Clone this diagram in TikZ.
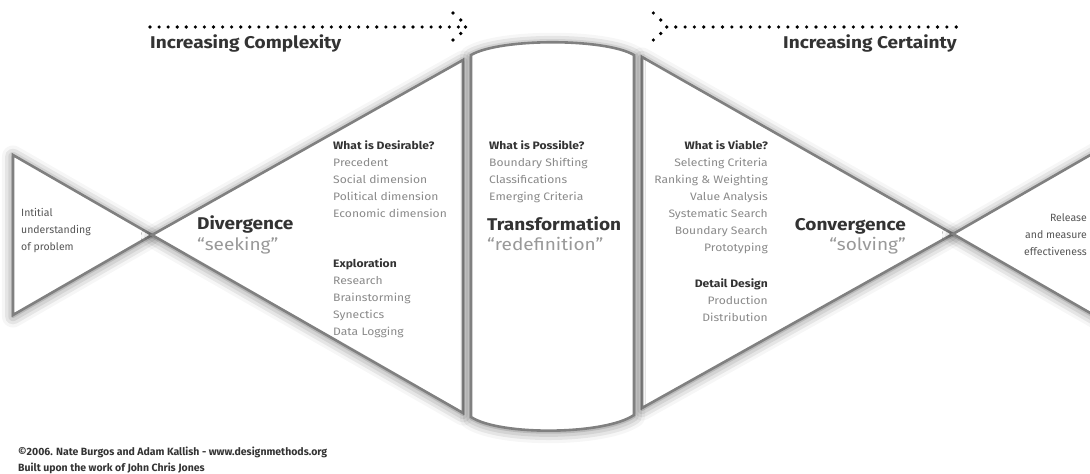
\documentclass[tikz,border=0pt]{standalone}
\usepackage{fontspec}
\setmainfont{Fira Sans}
\newfontfamily\widefont{Fira Sans}[FakeStretch=1.12]
\usetikzlibrary{shadows.blur}
\definecolor{edgegray}{HTML}{808080}
\definecolor{headgray}{HTML}{333333}
\definecolor{listgray}{HTML}{8A8A8A}
\definecolor{quotegray}{HTML}{999999}
\definecolor{notegray}{HTML}{555555}
\begin{document}
\begin{tikzpicture}[x=1pt, y=-1pt,
    stage/.style={draw=edgegray, line width=2.6pt, fill=white,
      blur shadow={shadow xshift=0pt, shadow yshift=-1.5pt, shadow blur radius=11pt, shadow opacity=55}},
    big/.style={font=\widefont\fontsize{17}{19}\selectfont\bfseries, text=headgray, inner sep=0pt},
    quote/.style={font=\widefont\fontsize{17}{19}\selectfont, text=quotegray, inner sep=0pt},
    head/.style={font=\widefont\fontsize{10.8}{12}\selectfont\bfseries, text=headgray, inner sep=0pt},
    item/.style={font=\widefont\fontsize{10.8}{12}\selectfont, text=listgray, inner sep=0pt},
    note/.style={font=\fontsize{10.5}{12}\selectfont, text=notegray, inner sep=0pt},
    credit/.style={font=\fontsize{10.5}{12}\selectfont\bfseries, text=headgray, inner sep=0pt}]
  \useasboundingbox (0,0) rectangle (1090,474);
  \clip (0,0) rectangle (1090,474);

  % the stages
  \coordinate (in) at (152,235);
  \coordinate (out) at (953,234);
  \draw[stage] (13,155) -- (in) -- (13,315) -- cycle;
  \draw[stage] (in) -- (463,60) -- (463,413) -- cycle;
  \draw[stage] (642,57) -- (out) -- (642,408) -- cycle;
  \draw[stage] (out) -- (1158,116) -- (1158,352) -- cycle;
  \draw[stage] (471,417) -- (471,55) .. controls (500,38) and (605,38) .. (634,55)
    -- (634,415) .. controls (605,435) and (500,436) .. (471,417) -- cycle;

  % dotted arrows
  \coordinate (cplx) at (150,27);
  \coordinate (cert) at (675.7,27);
  \foreach \i in {0,...,34}
    \fill (cplx) ++(9.07*\i,0) circle (1.8);
  \foreach \x/\y in {453/13, 460.7/20, 465.5/27, 460.7/33.5, 453/40}
    \fill (\x,\y) circle (1.8);
  \foreach \i in {0,...,30}
    \fill (cert) ++(9.35*\i,0) circle (1.8);
  \foreach \x/\y in {653.3/13, 660.7/20, 666.7/27, 660.7/33.5, 653.3/40}
    \fill (\x,\y) circle (1.8);
  \node[big, anchor=base west] (cplx-label) at (150,48) {Increasing Complexity};
  \node[big, anchor=base east] (cert-label) at (957,48) {Increasing Certainty};

  % start and end
  \foreach \t [count=\i] in {Intitial, understanding, of problem}
    \node[note, anchor=base west] (start-\i) at (21,199+17*\i) {\t};
  \foreach \t [count=\i] in {Release, and measure, effectiveness}
    \node[note, anchor=base east] (end-\i) at (1087,204+17*\i) {\t};

  % divergence
  \node[big, anchor=base west] (div) at (197,229) {Divergence};
  \node[quote, anchor=base west] (div-q) at (197,250) {“seeking”};
  \node[head, anchor=base west] (des) at (333,149) {What is Desirable?};
  \foreach \t [count=\i] in {Precedent, Social dimension, Political dimension, Economic dimension}
    \node[item, anchor=base west] (des-\i) at (333,149+17*\i) {\t};
  \node[head, anchor=base west] (expl) at (333,267) {Exploration};
  \foreach \t [count=\i] in {Research, Brainstorming, Synectics, Data Logging}
    \node[item, anchor=base west] (expl-\i) at (333,267+17*\i) {\t};

  % transformation
  \node[head, anchor=base west] (pos) at (489,149) {What is Possible?};
  \foreach \t [count=\i] in {Boundary Shifting, Classifications, Emerging Criteria}
    \node[item, anchor=base west] (pos-\i) at (489,149+17*\i) {\t};
  \node[big, anchor=base west] (trans) at (487,230) {Transformation};
  \node[quote, anchor=base west] (trans-q) at (487,250) {“redefinition”};

  % convergence
  \node[head, anchor=base east] (via) at (768,149) {What is Viable?};
  \foreach \t [count=\i] in {Selecting Criteria, Ranking \& Weighting, Value Analysis,
      Systematic Search, Boundary Search, Prototyping}
    \node[item, anchor=base east] (via-\i) at (768,149+17*\i) {\t};
  \node[head, anchor=base east] (det) at (768,287) {Detail Design};
  \foreach \t [count=\i] in {Production, Distribution}
    \node[item, anchor=base east] (det-\i) at (768,287+17*\i) {\t};
  \node[big, anchor=base east] (conv) at (906,230) {Convergence};
  \node[quote, anchor=base east] (conv-q) at (906,250) {“solving”};

  % credits
  \node[credit, anchor=base west] (credit-1) at (18,455) {©2006. Nate Burgos and Adam Kallish - www.designmethods.org};
  \node[credit, anchor=base west] (credit-2) at (18,471) {Built upon the work of John Chris Jones};
\end{tikzpicture}
\end{document}
